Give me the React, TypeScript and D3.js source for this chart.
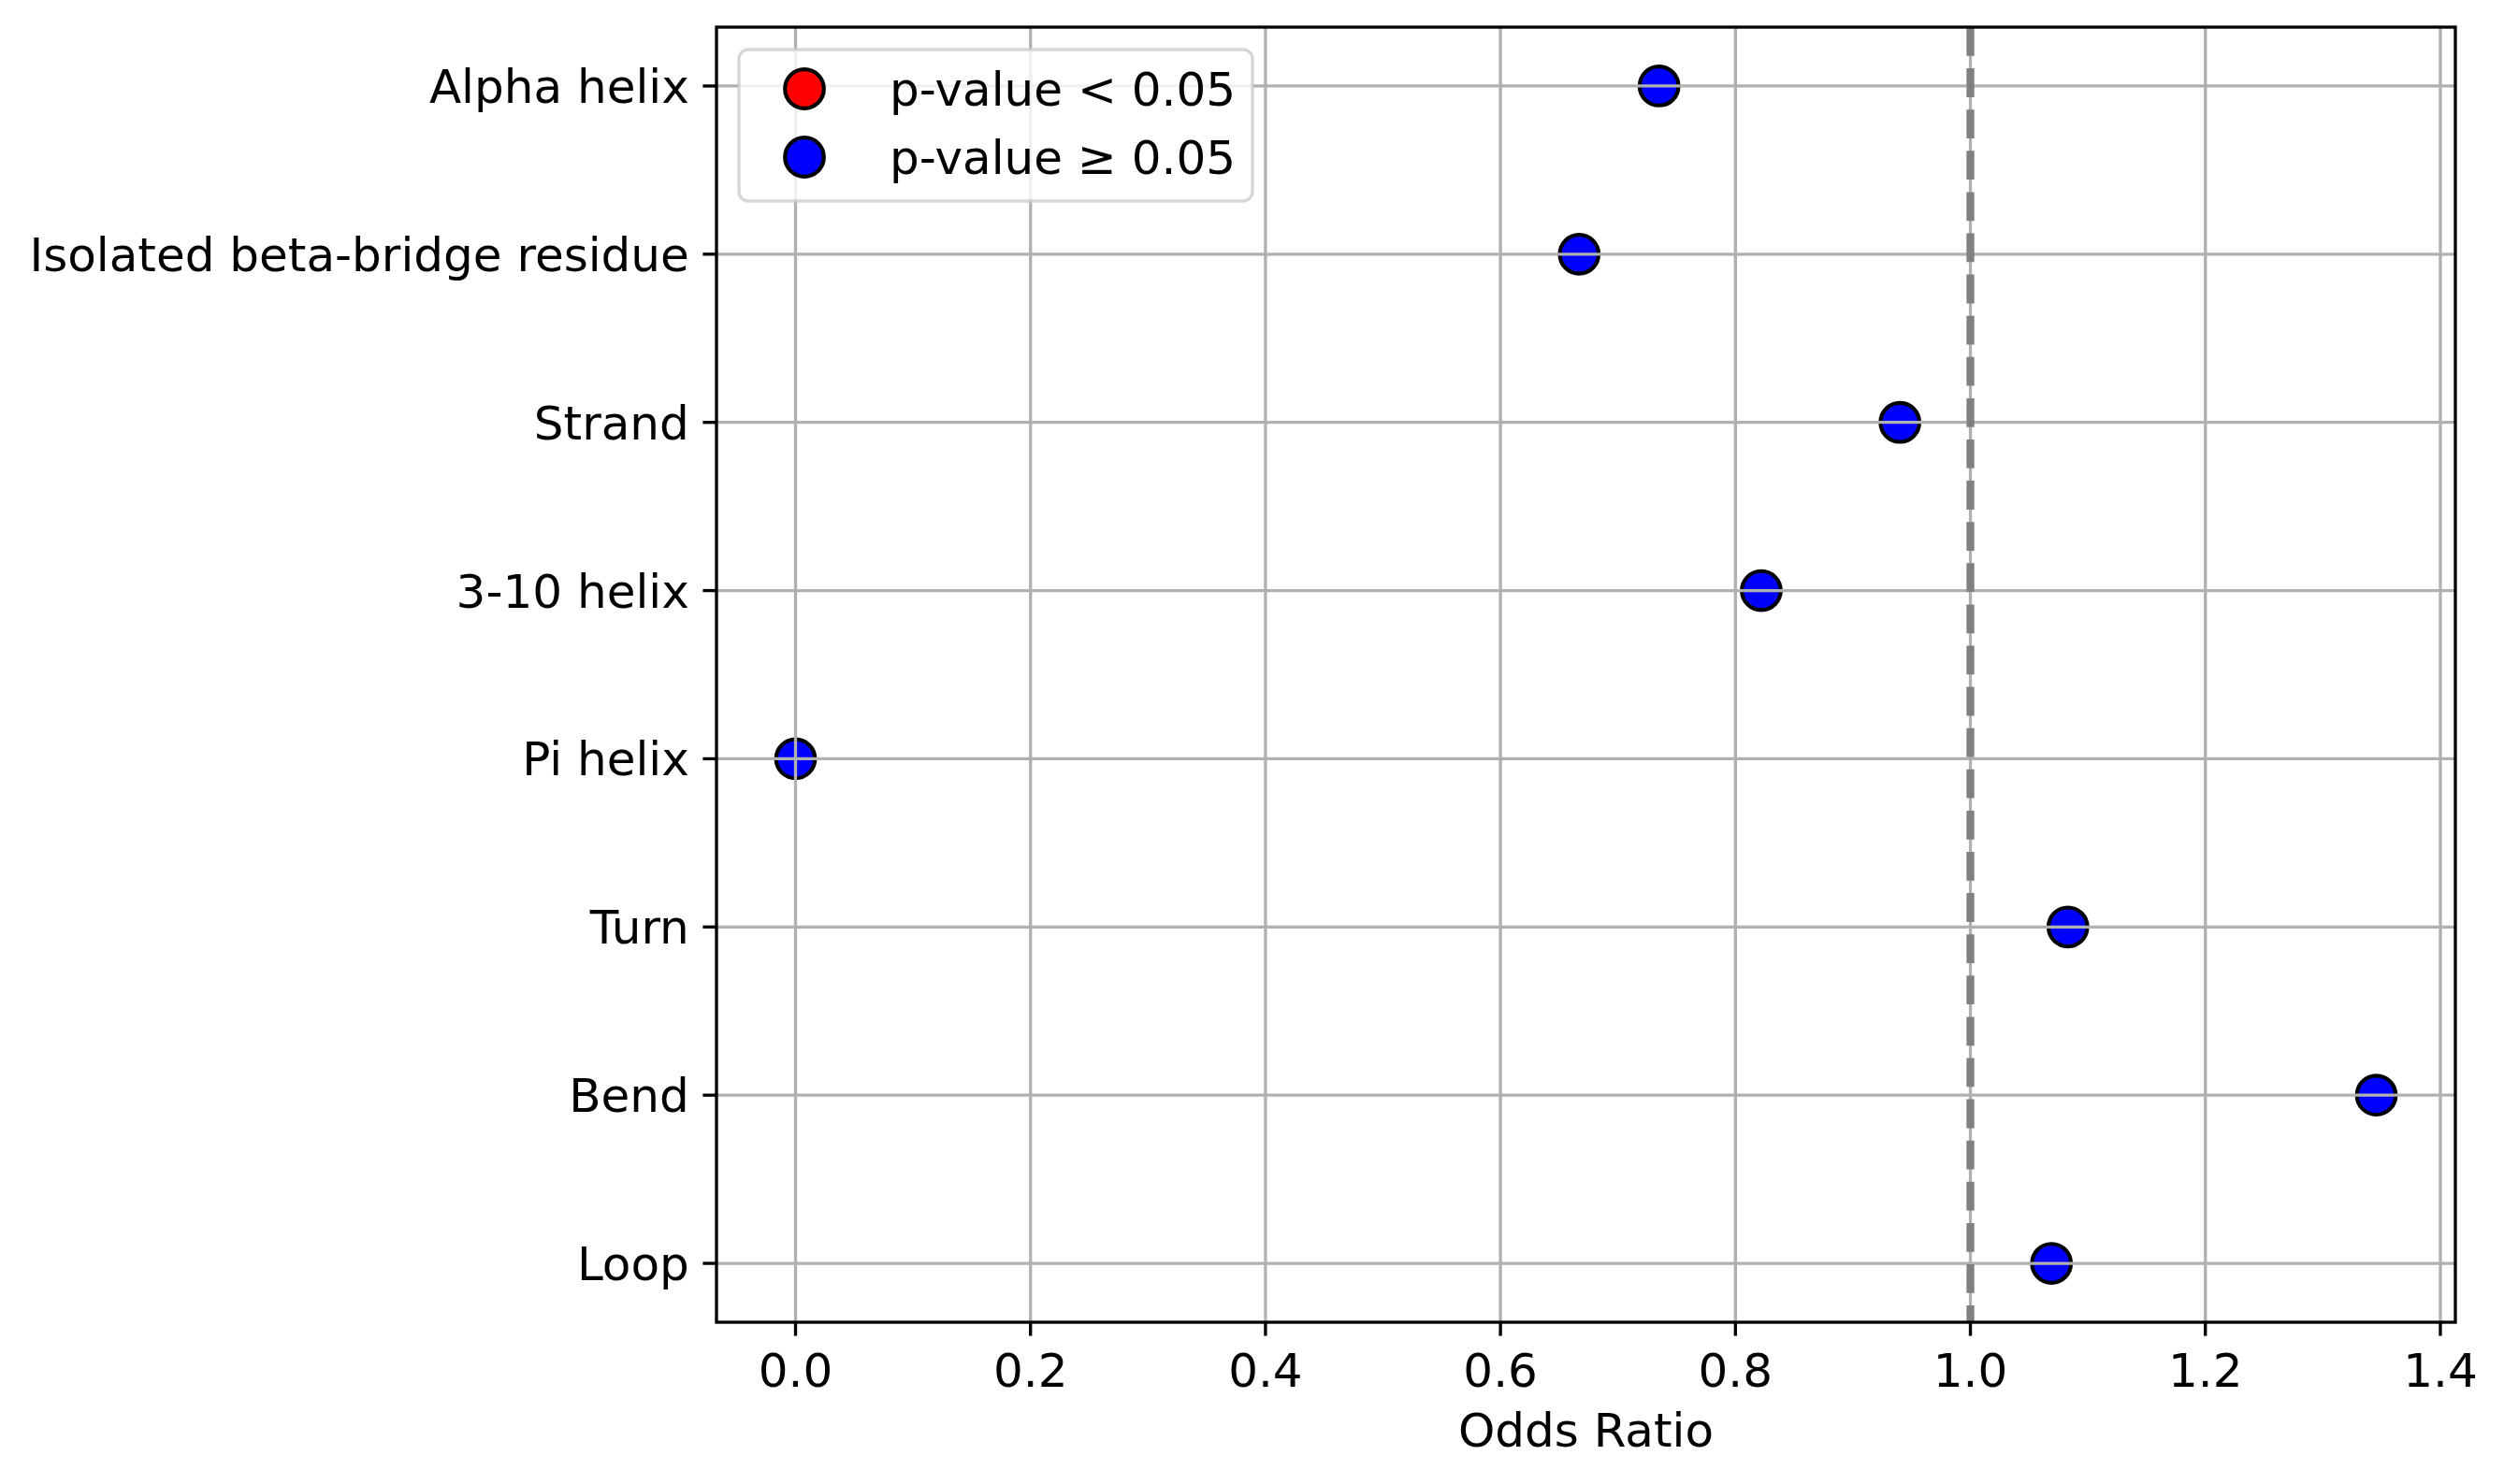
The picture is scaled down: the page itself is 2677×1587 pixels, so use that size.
import React, { useEffect } from "react";
import * as d3 from "d3";

const categories = [
  "Alpha helix",
  "Isolated beta-bridge residue",
  "Strand",
  "3-10 helix",
  "Pi helix",
  "Turn",
  "Bend",
  "Loop",
];
const oddsRatios = [0.735, 0.667, 0.94, 0.822, 0.0, 1.083, 1.3455, 1.069];
const pValues = [0.4, 0.4, 0.6, 0.5, 1.0, 0.6, 0.2, 0.5];
const xTicks = [0.0, 0.2, 0.4, 0.6, 0.8, 1.0, 1.2, 1.4];
const legendItems = [
  { label: "p-value < 0.05", color: "#ff0000" },
  { label: "p-value \u2265 0.05", color: "#0000ff" },
];

const W = 2677;
const H = 1587;
const left = 766;
const right = 2625;
const top = 29;
const bottom = 1414;
const FONT = "'DejaVu Sans', sans-serif";
const FS = 50;

export default function App() {
  useEffect(() => {
    document.body.style.margin = "0";
  }, []);

  const minV = d3.min(oddsRatios) as number;
  const maxV = d3.max(oddsRatios) as number;
  const pad = (maxV - minV) * 0.05;
  const x = d3.scaleLinear().domain([minV - pad, maxV + pad]).range([left, right]);
  const y = d3.scalePoint<string>().domain(categories).range([top, bottom]).padding(0.35);

  const gridColor = "#b0b0b0";
  const gridW = 3.33;

  return (
    <svg width={W} height={H} style={{ display: "block", background: "#fff" }} fontFamily={FONT}>
      <rect x={0} y={0} width={W} height={H} fill="#fff" />
      {categories.map((c, i) => (
        <circle
          key={c}
          cx={x(oddsRatios[i])}
          cy={y(c)}
          r={20.8}
          fill={pValues[i] < 0.05 ? "#ff0000" : "#0000ff"}
          stroke="#000"
          strokeWidth={4.17}
        />
      ))}
      <defs>
        <clipPath id="clip">
          <rect x={left} y={top} width={right - left} height={bottom - top} />
        </clipPath>
      </defs>
      <g clipPath="url(#clip)">
        {xTicks.map((t) => (
          <line key={"gx" + t} x1={x(t)} x2={x(t)} y1={top} y2={bottom} stroke={gridColor} strokeWidth={gridW} />
        ))}
        {categories.map((c) => (
          <line key={"gy" + c} x1={left} x2={right} y1={y(c)} y2={y(c)} stroke={gridColor} strokeWidth={gridW} />
        ))}
        <line
          x1={x(1)}
          x2={x(1)}
          y1={top}
          y2={bottom}
          stroke="#808080"
          strokeWidth={8.33}
          strokeDasharray="30.8 13.3"
        />
      </g>
      <rect x={left} y={top} width={right - left} height={bottom - top} fill="none" stroke="#000" strokeWidth={3.33} />
      {xTicks.map((t) => (
        <g key={"xt" + t}>
          <line x1={x(t)} x2={x(t)} y1={bottom} y2={bottom + 14.6} stroke="#000" strokeWidth={3.33} />
          <text x={x(t)} y={1483} textAnchor="middle" fontSize={FS} fill="#000">
            {d3.format(".1f")(t)}
          </text>
        </g>
      ))}
      {categories.map((c) => (
        <g key={"yt" + c}>
          <line x1={left - 14.6} x2={left} y1={y(c)} y2={y(c)} stroke="#000" strokeWidth={3.33} />
          <text x={left - 29.2} y={y(c)} dy="0.36em" textAnchor="end" fontSize={FS} fill="#000">
            {c}
          </text>
        </g>
      ))}
      <text x={(left + right) / 2} y={1547} textAnchor="middle" fontSize={FS} fill="#000">
        Odds Ratio
      </text>
      <g>
        <rect
          x={790}
          y={53}
          width={549}
          height={162}
          rx={10}
          ry={10}
          fill="#fff"
          fillOpacity={0.8}
          stroke="#cccccc"
          strokeOpacity={0.8}
          strokeWidth={3.33}
        />
        {legendItems.map((it, i) => (
          <g key={it.label}>
            <circle cx={860} cy={95 + i * 73} r={20.8} fill={it.color} stroke="#000" strokeWidth={4.17} />
            <text x={951} y={95 + i * 73} dy="0.36em" fontSize={FS} fill="#000">
              {it.label}
            </text>
          </g>
        ))}
      </g>
    </svg>
  );
}
